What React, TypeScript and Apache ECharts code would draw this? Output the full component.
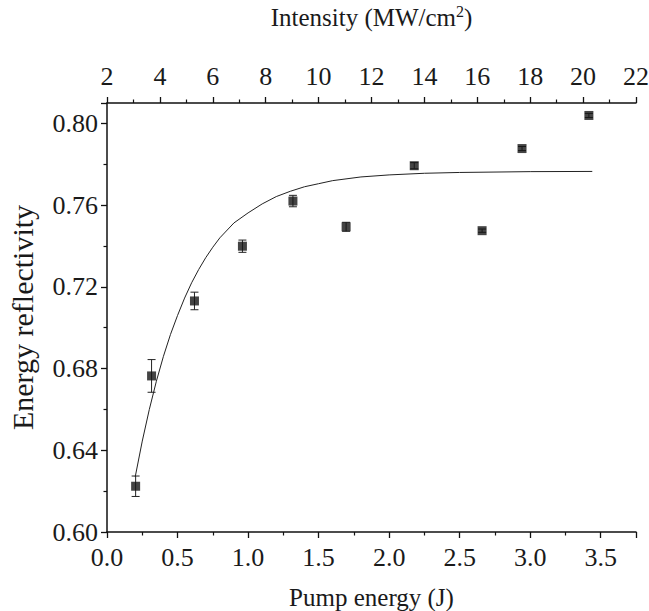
import React, { useEffect, useRef } from "react";
import * as echarts from "echarts";

// Measured points: pump energy (J), energy reflectivity, error (±)
const pumpEnergy = [0.203, 0.316, 0.62, 0.96, 1.318, 1.695, 2.178, 2.659, 2.942, 3.416];
const reflectivity = [0.6224, 0.6764, 0.7131, 0.7399, 0.762, 0.7494, 0.7793, 0.7475, 0.7877, 0.8039];
const errors = [0.005, 0.008, 0.0043, 0.003, 0.0028, 0.0022, 0.0015, 0.0008, 0.001, 0.001];

// Fitted curve, points
const fitX = [0.2, 0.25, 0.3, 0.35, 0.4, 0.45, 0.5, 0.55, 0.6, 0.65, 0.7, 0.75, 0.8, 0.9, 1.0, 1.1, 1.2, 1.3, 1.4, 1.5, 1.6, 1.8, 2.0, 2.25, 2.5, 3.0, 3.44];
const fitY = [0.627, 0.6445, 0.66, 0.6738, 0.686, 0.6967, 0.706, 0.7145, 0.722, 0.7285, 0.7343, 0.7394, 0.744, 0.7513, 0.7562, 0.7606, 0.7642, 0.7668, 0.769, 0.7705, 0.772, 0.7738, 0.7748, 0.7756, 0.776, 0.7764, 0.7765];

// Axis ranges
const energyRange = [0, 3.75];
const intensityRange = [2, 22];
const reflRange = [0.6, 0.81];

const FONT = "Liberation Serif";

export default function App() {
  const ref = useRef<HTMLDivElement>(null);
  useEffect(() => {
    if (!ref.current) return;
    const chart = echarts.init(ref.current, null, { renderer: "svg" });
    const axisCommon = {
      axisLine: { show: true, onZero: false, lineStyle: { color: "#111", width: 1.5 } },
      axisTick: { show: true, inside: false, length: 6, lineStyle: { color: "#111", width: 1.3 } },
      minorTick: { show: true, splitNumber: 2, length: 3.5, lineStyle: { color: "#111", width: 1.2 } },
      splitLine: { show: false },
      minorSplitLine: { show: false },
    };
    const labelStyle = { fontFamily: FONT, fontSize: 26, color: "#1a1a1a" };
    chart.setOption({
      animation: false,
      backgroundColor: "#fff",
      textStyle: { fontFamily: FONT },
      grid: { left: 107, right: 13, top: 103, bottom: 79, containLabel: false, outerBoundsMode: "none" },
      xAxis: [
        {
          ...axisCommon,
          type: "value",
          position: "bottom",
          min: energyRange[0],
          max: energyRange[1],
          interval: 0.5,
          name: "Pump energy (J)",
          nameLocation: "middle",
          nameGap: 53,
          nameTextStyle: { fontFamily: FONT, fontSize: 25, color: "#1a1a1a" },
          axisLabel: {
            ...labelStyle,
            margin: 12,
            showMaxLabel: false,
            formatter: (v: number) => v.toFixed(1),
          },
        },
        {
          ...axisCommon,
          type: "value",
          position: "top",
          min: intensityRange[0],
          max: intensityRange[1],
          interval: 2,
          name: "Intensity (MW/cm{sup|2})",
          nameLocation: "middle",
          nameGap: 72,
          nameTextStyle: {
            fontFamily: FONT,
            fontSize: 25,
            color: "#1a1a1a",
            rich: {
              sup: { fontFamily: FONT, fontSize: 16, color: "#1a1a1a", padding: [0, 0, 12, 0] },
            },
          },
          axisLabel: {
            ...labelStyle,
            margin: 14,
            formatter: (v: number) => String(Math.round(v)),
          },
        },
      ],
      yAxis: {
        ...axisCommon,
        type: "value",
        min: reflRange[0],
        max: reflRange[1],
        interval: 0.04,
        name: "Energy reflectivity",
        nameLocation: "middle",
        nameGap: 70,
        nameTextStyle: { fontFamily: FONT, fontSize: 30, color: "#1a1a1a" },
        axisLabel: {
          ...labelStyle,
          margin: 9,
          showMaxLabel: false,
          formatter: (v: number) => v.toFixed(2),
        },
      },
      series: [
        {
          type: "line",
          xAxisIndex: 0,
          data: fitX.map((x, i) => [x, fitY[i]]),
          smooth: false,
          showSymbol: false,
          symbol: "none",
          lineStyle: { color: "#222", width: 1 },
          z: 2,
        },
        {
          type: "custom",
          xAxisIndex: 0,
          data: pumpEnergy.map((x, i) => [x, reflectivity[i], errors[i]]),
          renderItem: (params: any, api: any) => {
            const x = api.value(0);
            const y = api.value(1);
            const e = api.value(2);
            const lo = api.coord([x, y - e]);
            const hi = api.coord([x, y + e]);
            const w = 4;
            const style = { stroke: "#222", lineWidth: 1 };
            return {
              type: "group",
              children: [
                { type: "line", shape: { x1: lo[0], y1: lo[1], x2: hi[0], y2: hi[1] }, style },
                { type: "line", shape: { x1: lo[0] - w, y1: lo[1], x2: lo[0] + w, y2: lo[1] }, style },
                { type: "line", shape: { x1: hi[0] - w, y1: hi[1], x2: hi[0] + w, y2: hi[1] }, style },
              ],
            };
          },
          z: 3,
        },
        {
          type: "scatter",
          xAxisIndex: 0,
          data: pumpEnergy.map((x, i) => [x, reflectivity[i]]),
          symbol: "rect",
          symbolSize: 9,
          itemStyle: { color: "#151515" },
          z: 4,
        },
      ],
    });
    return () => chart.dispose();
  }, []);
  return (
    <div
      ref={ref}
      style={{ position: "fixed", left: 0, top: 0, width: 649, height: 611, background: "#fff" }}
    />
  );
}
